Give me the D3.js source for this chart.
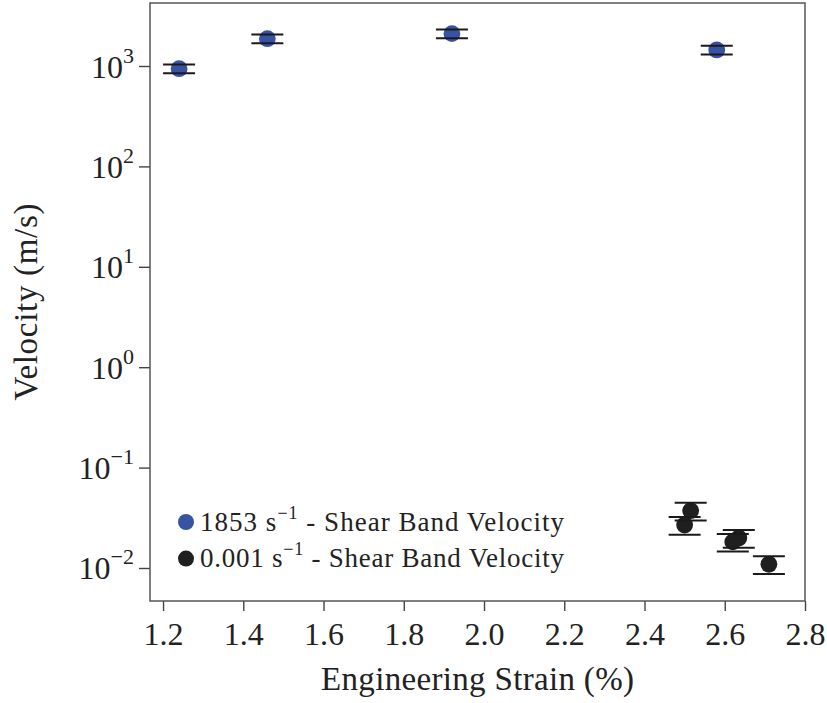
<!DOCTYPE html>
<html>
<head>
<meta charset="utf-8">
<script src="https://cdn.jsdelivr.net/npm/d3@7"></script>
<style>
  body { margin: 0; background: #fff; }
</style>
</head>
<body>
<div id="chart"></div>
<script>
// tick values
const xTicks = [1.2, 1.4, 1.6, 1.8, 2.0, 2.2, 2.4, 2.6, 2.8];
const yExponents = [-2, -1, 0, 1, 2, 3];

// 1853 /s shear band velocity
const fastStrain = [1.24, 1.46, 1.92, 2.58];
const fastVelocity = [940, 1870, 2100, 1445];
const fastErr = [94, 187, 210, 145];

// 0.001 /s shear band velocity
const slowStrain = [2.515, 2.50, 2.635, 2.62, 2.71];
const slowVelocity = [0.0372, 0.0268, 0.0199, 0.0182, 0.0109];
const slowErr = [0.0074, 0.0054, 0.0040, 0.0036, 0.0022];

const seriesNames = ["1853", "0.001"];
const seriesColors = ["#3953a4", "#1f1f1f"];

const serif = "Liberation Serif";
const width = 827, height = 703;
const margin = { top: 3, right: 22, bottom: 102, left: 150 };

const svg = d3.select("#chart").append("svg")
  .attr("width", width)
  .attr("height", height);

const x = d3.scaleLinear()
  .domain([1.1675, 2.8])
  .range([margin.left, width - margin.right]);

const y = d3.scaleLog()
  .domain([Math.pow(10, -2.3287), Math.pow(10, 3.6275)])
  .range([height - margin.bottom, margin.top]);

// x axis: ticks from d3, labels added so the font sticks
const xAxis = svg.append("g")
  .attr("transform", `translate(0,${height - margin.bottom})`)
  .call(d3.axisBottom(x).tickValues(xTicks).tickSize(10).tickFormat(""));
xAxis.select(".domain").remove();
xAxis.selectAll(".tick line").attr("stroke", "#444").attr("stroke-width", 1.4);
xAxis.selectAll(".tick").append("text")
  .attr("y", 44)
  .attr("text-anchor", "middle")
  .attr("font-family", serif)
  .attr("font-size", 32)
  .attr("fill", "#222")
  .text(d => d3.format(".1f")(d));

// y axis, labels written as powers of ten
const yAxis = svg.append("g")
  .attr("transform", `translate(${margin.left},0)`)
  .call(d3.axisLeft(y).tickValues(yExponents.map(e => Math.pow(10, e))).tickSize(11).tickFormat(""));
yAxis.select(".domain").remove();
yAxis.selectAll(".tick line").attr("stroke", "#444").attr("stroke-width", 1.4);
yAxis.selectAll(".tick").each(function(d) {
  const e = Math.round(Math.log10(d));
  const t = d3.select(this).append("text")
    .attr("x", -16)
    .attr("y", 11)
    .attr("text-anchor", "end")
    .attr("font-family", serif)
    .attr("font-size", 32)
    .attr("fill", "#222");
  t.append("tspan").text("10");
  t.append("tspan").attr("dy", -15).attr("font-size", 22).text(e < 0 ? "\u2212" + (-e) : e);
});

// frame
svg.append("rect")
  .attr("x", margin.left)
  .attr("y", margin.top)
  .attr("width", width - margin.left - margin.right)
  .attr("height", height - margin.top - margin.bottom)
  .attr("fill", "none")
  .attr("stroke", "#555")
  .attr("stroke-width", 1.5);

// axis titles
svg.append("text")
  .attr("x", (margin.left + width - margin.right) / 2)
  .attr("y", 690)
  .attr("text-anchor", "middle")
  .attr("font-family", serif)
  .attr("font-size", 33)
  .attr("fill", "#222")
  .attr("textLength", 313)
  .text("Engineering Strain (%)");

svg.append("text")
  .attr("transform", `translate(37,${(margin.top + height - margin.bottom) / 2}) rotate(-90)`)
  .attr("text-anchor", "middle")
  .attr("font-family", serif)
  .attr("font-size", 33)
  .attr("fill", "#222")
  .attr("textLength", 197)
  .text("Velocity (m/s)");

// points + error caps
function drawSeries(xs, vs, errs, color) {
  const g = svg.append("g");
  g.selectAll("circle")
    .data(xs)
    .join("circle")
    .attr("cx", d => x(d))
    .attr("cy", (d, i) => y(vs[i]))
    .attr("r", 8.4)
    .attr("fill", color);

  const bars = g.selectAll("g.err")
    .data(xs)
    .join("g")
    .attr("class", "err")
    .attr("stroke", "#1a1a1a")
    .attr("stroke-width", 2);
  [1, -1].forEach(s => {
    bars.append("line")
      .attr("x1", d => x(d) - 16).attr("x2", d => x(d) + 16)
      .attr("y1", (d, i) => y(vs[i] + s * errs[i]))
      .attr("y2", (d, i) => y(vs[i] + s * errs[i]));
  });
}
drawSeries(fastStrain, fastVelocity, fastErr, seriesColors[0]);
drawSeries(slowStrain, slowVelocity, slowErr, seriesColors[1]);

// legend
const legend = svg.append("g").attr("transform", "translate(186,522)");
seriesNames.forEach((name, i) => {
  const row = legend.append("g").attr("transform", `translate(0,${i * 36.6})`);
  row.append("circle").attr("r", 8).attr("fill", seriesColors[i]);
  const t = row.append("text")
    .attr("x", 14)
    .attr("y", 8.5)
    .attr("font-family", serif)
    .attr("font-size", 27)
    .attr("fill", "#222")
    .attr("textLength", 364);
  t.append("tspan").text(name + " s");
  t.append("tspan").attr("dy", -12).attr("font-size", 18).text("\u22121");
  t.append("tspan").attr("dy", 12).text(" - Shear Band Velocity");
});
</script>
</body>
</html>
